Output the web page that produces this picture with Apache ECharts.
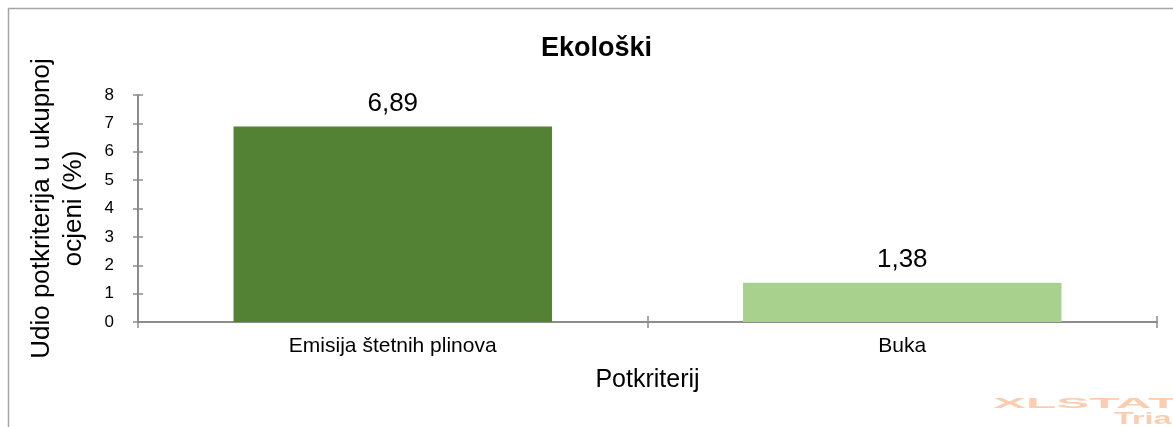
<!DOCTYPE html>
<html>
<head>
<meta charset="utf-8">
<script src="https://cdn.jsdelivr.net/npm/echarts@6/dist/echarts.min.js"></script>
<style>
html,body{margin:0;padding:0;background:#fff;}
#chart{width:1173px;height:427px;}
</style>
</head>
<body>
<div id="chart"></div>
<script>
const titleText = 'Ekološki';
const categories = ['Emisija štetnih plinova', 'Buka'];
const values = [6.89, 1.38];
const barColors = ['#548235', '#A9D18E'];
const yTicks = [0, 1, 2, 3, 4, 5, 6, 7, 8];
const yAxisName = 'Udio potkriterija u ukupnoj\nocjeni (%)';
const xAxisName = 'Potkriterij';

const FONT = '"Liberation Sans", Arial, sans-serif';
const axisColor = '#8c8c8c';

const chart = echarts.init(document.getElementById('chart'), null, {renderer: 'canvas'});
chart.setOption({
  backgroundColor: '#ffffff',
  animation: false,
  title: {
    text: titleText,
    left: 536,
    top: 30,
    textStyle: {fontFamily: FONT, fontSize: 27, fontWeight: 'bold', color: '#000'}
  },
  grid: {left: 138, right: 16, top: 95, bottom: 105, containLabel: false},
  xAxis: [{
    type: 'category',
    data: categories,
    name: xAxisName,
    nameLocation: 'middle',
    nameGap: 46,
    nameTextStyle: {fontFamily: FONT, fontSize: 25, color: '#000'},
    axisLine: {lineStyle: {color: axisColor, width: 2}},
    axisTick: {show: true, length: 6, lineStyle: {color: axisColor, width: 1.5}},
    axisLabel: {fontFamily: FONT, fontSize: 21, color: '#000', margin: 14}
  }, {
    type: 'category',
    data: categories,
    position: 'bottom',
    axisLine: {show: false},
    axisTick: {show: true, inside: true, length: 6, lineStyle: {color: axisColor, width: 1.5}},
    axisLabel: {show: false}
  }],
  yAxis: [{
    type: 'value',
    min: yTicks[0],
    max: yTicks[yTicks.length - 1],
    interval: 1,
    name: yAxisName,
    nameLocation: 'middle',
    nameGap: 48,
    nameRotate: 90,
    nameTextStyle: {fontFamily: FONT, fontSize: 26, color: '#000', lineHeight: 32, align: 'center'},
    axisLine: {show: true, lineStyle: {color: axisColor, width: 2}},
    axisTick: {show: true, length: 5, lineStyle: {color: axisColor, width: 1.5}},
    axisLabel: {fontFamily: FONT, fontSize: 17, color: '#000', margin: 24},
    splitLine: {show: false}
  }, {
    type: 'value',
    position: 'left',
    min: yTicks[0],
    max: yTicks[yTicks.length - 1],
    interval: 1,
    axisLine: {show: false},
    axisTick: {show: true, inside: true, length: 5, lineStyle: {color: axisColor, width: 1.5}},
    axisLabel: {show: false},
    splitLine: {show: false}
  }],
  series: [{
    type: 'bar',
    xAxisIndex: 0,
    yAxisIndex: 0,
    barWidth: '62.5%',
    data: values.map((v, i) => ({value: v, itemStyle: {color: barColors[i]}})),
    label: {
      show: true,
      position: 'top',
      distance: 10,
      fontFamily: FONT,
      fontSize: 26,
      color: '#000',
      formatter: p => p.value.toFixed(2).replace('.', ',')
    }
  }],
  graphic: [{
    type: 'rect',
    shape: {x: 8.5, y: 8.5, width: 1300, height: 600},
    style: {fill: 'none', stroke: '#a6a6a6', lineWidth: 1.5},
    silent: true,
    z: -1
  }, {
    type: 'text',
    x: 993,
    y: 396,
    style: {text: 'XLSTAT', fontFamily: FONT, fontSize: 15, fontWeight: 'bold', fill: 'rgba(249,170,120,0.6)'},
    scaleX: 3.3,
    silent: true
  }, {
    type: 'text',
    x: 1114,
    y: 411,
    style: {text: 'Tria', fontFamily: FONT, fontSize: 17, fontWeight: 'bold', fill: 'rgba(249,170,120,0.6)'},
    scaleX: 1.9,
    silent: true
  }]
});
</script>
</body>
</html>
